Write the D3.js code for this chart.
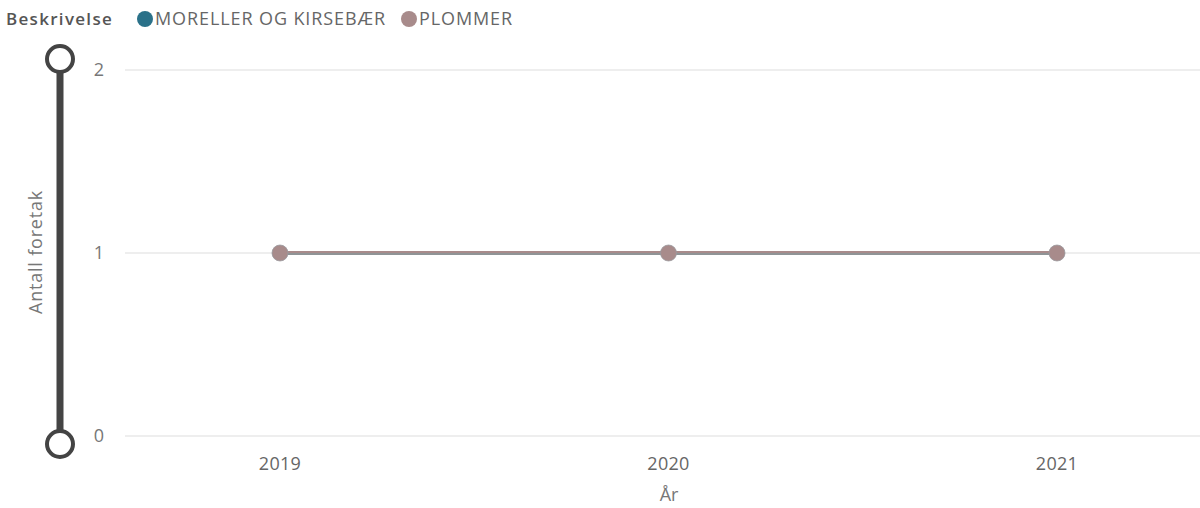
<!DOCTYPE html>
<html><head><meta charset="utf-8">
<script src="https://cdn.jsdelivr.net/npm/d3@7"></script>
<style>body{margin:0;background:#fff;}svg{display:block;font-family:"Open Sans","Noto Sans",sans-serif;}</style>
</head><body>
<svg id="c" width="1200" height="508"></svg>
<script>
const years = ["2019","2020","2021"];
const seriesNames = ["MORELLER OG KIRSEBÆR","PLOMMER"];
const morellerValues = [1,1,1];
const plommerValues = [1,1,1];
const yTicks = [0,1,2];
const colors = ["#2a7189","#a88b8b"];

const svg = d3.select("#c");
const x = d3.scalePoint().domain(years).range([280,1057]);
const y = d3.scaleLinear().domain([0,2]).range([436,70]);

// gridlines
svg.append("g").selectAll("line").data(yTicks).join("line")
  .attr("x1",125).attr("x2",1200).attr("y1",d=>y(d)).attr("y2",d=>y(d))
  .attr("stroke","#e8e8e8").attr("stroke-width",1.5);

// y tick labels
svg.append("g").selectAll("text").data(yTicks).join("text")
  .attr("x",104).attr("y",d=>y(d)+6).attr("text-anchor","end")
  .attr("fill","#777").attr("font-size",18).text(d=>d);

// x tick labels
svg.append("g").selectAll("text").data(years).join("text")
  .attr("x",d=>x(d)).attr("y",470).attr("text-anchor","middle")
  .attr("fill","#666").attr("font-size",18).attr("letter-spacing",0.3).text(d=>d);

// axis titles
svg.append("text").attr("x",669).attr("y",501).attr("text-anchor","middle")
  .attr("fill","#777").attr("font-size",18).text("År");
svg.append("text").attr("transform","translate(42,252) rotate(-90)").attr("text-anchor","middle")
  .attr("fill","#777").attr("font-size",18).attr("letter-spacing",0.8).text("Antall foretak");

// slider
svg.append("line").attr("x1",60).attr("x2",60).attr("y1",y(2)).attr("y2",y(0)+8)
  .attr("stroke","#444").attr("stroke-width",7);
svg.append("g").selectAll("circle").data([y(2)-11,y(0)+8]).join("circle")
  .attr("cx",60).attr("cy",d=>d).attr("r",13).attr("fill","#fff").attr("stroke","#444").attr("stroke-width",4);

// lines
const line = d3.line().x((d,i)=>x(years[i])).y(d=>y(d));
svg.append("path").datum(morellerValues).attr("d",line).attr("fill","none")
  .attr("stroke","#8f9496").attr("stroke-width",4);
svg.append("path").datum(plommerValues).attr("d",line).attr("fill","none")
  .attr("stroke","#a88b8b").attr("stroke-width",2).attr("transform","translate(0,-1)");
svg.append("g").selectAll("circle").data(plommerValues).join("circle")
  .attr("cx",(d,i)=>x(years[i])).attr("cy",d=>y(d)).attr("r",8)
  .attr("fill","#a88b8b").attr("stroke","#9a9a9f").attr("stroke-width",0.8);

// legend
const lg = svg.append("g");
lg.append("text").attr("x",6).attr("y",25).attr("fill","#555").attr("font-size",17).attr("font-weight",600)
  .attr("letter-spacing",1.3).text("Beskrivelse");
const lx = [145,409];
seriesNames.forEach((n,i)=>{
  lg.append("circle").attr("cx",lx[i]).attr("cy",19).attr("r",8).attr("fill",colors[i]);
  lg.append("text").attr("x",lx[i]+10).attr("y",25).attr("fill","#666").attr("font-size",18)
    .attr("letter-spacing",0.9).text(n);
});
</script>
</body></html>
